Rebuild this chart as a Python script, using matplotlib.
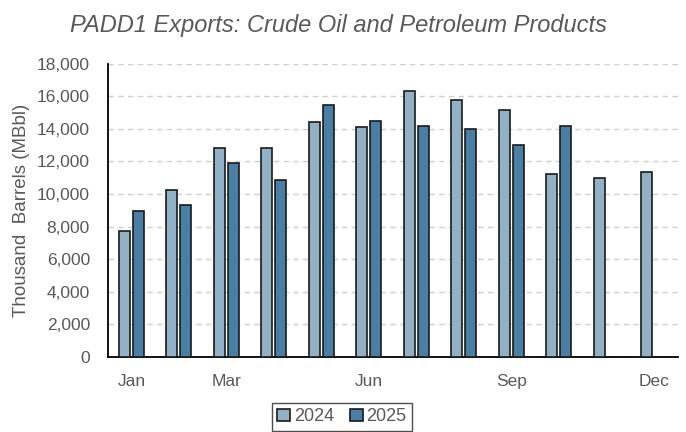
import matplotlib
matplotlib.use("Agg")
import matplotlib.pyplot as plt
import numpy as np

months = ["Jan", "Feb", "Mar", "Apr", "May", "Jun", "Jul", "Aug", "Sep", "Oct", "Nov", "Dec"]
vals_2024 = [7700, 10250, 12800, 12800, 14400, 14080, 16330, 15750, 15170, 11250, 10950, 11320]
vals_2025 = [8970, 9300, 11920, 10860, 15470, 14460, 14180, 14000, 13010, 14180]
tick_months = ["Jan", "Mar", "Jun", "Sep", "Dec"]
yticks = list(range(0, 18001, 2000))

plt.rcParams['font.family'] = ['Liberation Sans', 'DejaVu Sans']
gray = "#595959"

fig = plt.figure(figsize=(6.86, 4.32), dpi=100)
ax = fig.add_axes([0.1574, 0.1736, 0.8306, 0.6794])

x = np.arange(len(months))
w = 0.235
c24 = "#93B1C6"
c25 = "#4A7EA5"
ax.bar(x[:len(vals_2024)] - 0.155, vals_2024, width=w, color=c24, edgecolor="#1a1a1a", linewidth=1.2, label="2024", zorder=3)
ax.bar(x[:len(vals_2025)] + 0.14, vals_2025, width=w, color=c25, edgecolor="#1a1a1a", linewidth=1.2, label="2025", zorder=3)

ax.set_xlim(-0.5, 11.5)
ax.set_ylim(0, 18000)
ax.set_yticks(yticks)
ax.set_yticklabels([f"{v:,}" for v in yticks], fontsize=12.5, color=gray)
ax.set_xticks([months.index(m) for m in tick_months])
ax.set_xticklabels(tick_months, fontsize=12.5, color=gray)
ax.tick_params(axis="y", length=0, pad=13)
ax.tick_params(axis="x", length=0, pad=12.5)
ax.grid(axis="y", linestyle=(0, (4, 3)), color="#D0D0D0", linewidth=1.0, zorder=0)
for s in ["top", "right"]:
    ax.spines[s].set_visible(False)
ax.spines["left"].set_color("black")
ax.spines["bottom"].set_color("black")
ax.spines["left"].set_linewidth(1.3)
ax.spines["bottom"].set_linewidth(1.3)

ax.set_ylabel("Thousand  Barrels (MBbl)", fontsize=13.5, color=gray, labelpad=5)
fig.text(0.494, 0.926, "PADD1 Exports: Crude Oil and Petroleum Products", fontsize=17,
         style="italic", color=gray, ha="center", va="baseline")

leg = fig.legend(loc="upper center", bbox_to_anchor=(0.4985, 0.067), ncol=2, fontsize=13,
                 frameon=True, fancybox=False, edgecolor="#222222", handlelength=0.7,
                 handleheight=0.7, handletextpad=0.2, columnspacing=0.9, borderpad=0.3,
                 borderaxespad=0)
leg.get_frame().set_linewidth(1.0)
for t in leg.get_texts():
    t.set_color(gray)

fig.savefig("out.png", dpi=100)
